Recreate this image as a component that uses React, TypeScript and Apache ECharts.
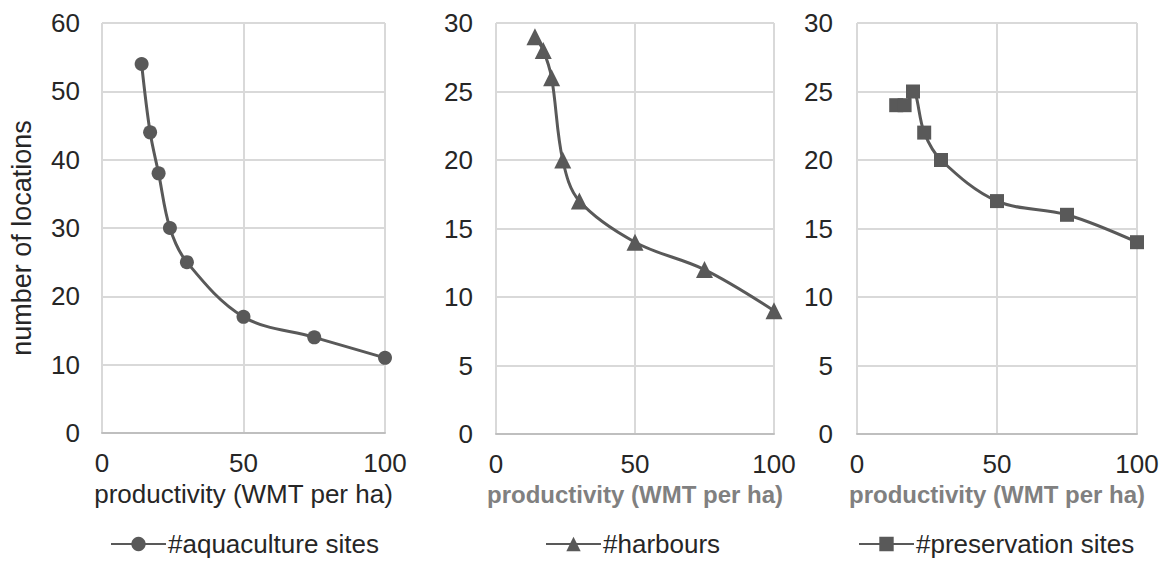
import React, { useEffect, useRef } from "react";
import * as echarts from "echarts";

const productivity = [14, 17, 20, 24, 30, 50, 75, 100];
const aquacultureSites = [54, 44, 38, 30, 25, 17, 14, 11];
const harbours = [29, 28, 26, 20, 17, 14, 12, 9];
const preservationSites = [24, 24, 25, 22, 20, 17, 16, 14];

const xTitle = "productivity (WMT per ha)";
const yTitle = "number of locations";
const seriesNames = ["#aquaculture sites", "#harbours", "#preservation sites"];
const yMaxes = [60, 30, 30];
const yIntervals = [10, 5, 5];

const FONT = "Liberation Sans, Arial, sans-serif";
const LINE = "#595959";
const GRIDC = "#d9d9d9";

export default function App() {
  const ref = useRef<HTMLDivElement>(null);
  useEffect(() => {
    if (!ref.current) return;
    const chart = echarts.init(ref.current, undefined, { renderer: "svg" });
    const grids = [
      { left: 102, top: 23, width: 283, height: 410 },
      { left: 496, top: 23, width: 278, height: 411 },
      { left: 857, top: 23, width: 280, height: 411 },
    ];
    const seriesData = [aquacultureSites, harbours, preservationSites];
    const symbols = ["circle", "triangle", "rect"];
    const symbolSizes = [14, 17, 14];
    const legendLefts = [110, 545, 858];
    const labelMargins = [22, 23, 24];

    const option: any = {
      animation: false,
      backgroundColor: "#ffffff",
      textStyle: { fontFamily: FONT },
      grid: grids,
      xAxis: grids.map((_, i) => ({
        type: "value",
        gridIndex: i,
        min: 0,
        max: 100,
        interval: 50,
        name: xTitle,
        nameLocation: "middle",
        nameGap: 48,
        nameTextStyle:
          i === 0
            ? { fontSize: 26, color: "#262626", fontFamily: FONT, verticalAlign: "top" }
            : { fontSize: 24, color: "#808080", fontWeight: "bold", fontFamily: FONT, verticalAlign: "top" },
        axisLine: { show: true, lineStyle: { color: "#bfbfbf", width: 2 } },
        axisTick: { show: false },
        axisLabel: { fontSize: 26, color: "#262626", margin: 17, fontFamily: FONT },
        splitLine: { show: true, lineStyle: { color: GRIDC, width: 2 } },
      })),
      yAxis: grids.map((_, i) => ({
        type: "value",
        gridIndex: i,
        min: 0,
        max: yMaxes[i],
        interval: yIntervals[i],
        axisLine: { show: false },
        axisTick: { show: false },
        axisLabel: { fontSize: 26, color: "#262626", margin: labelMargins[i], fontFamily: FONT },
        splitLine: { show: true, lineStyle: { color: GRIDC, width: 2 } },
      })),
      legend: seriesNames.map((n, i) => ({
        data: [n],
        left: legendLefts[i],
        top: 531,
        padding: 0,
        itemWidth: 55,
        itemHeight: 18,
        itemGap: 5,
        textStyle: { fontSize: 26, color: "#262626", fontFamily: FONT, padding: [0, 0, 0, -3] },
      })),
      series: seriesNames.map((n, i) => ({
        name: n,
        type: "line",
        xAxisIndex: i,
        yAxisIndex: i,
        data: productivity.map((x, k) => [x, seriesData[i][k]]),
        smooth: 0.35,
        symbol: symbols[i],
        symbolSize: symbolSizes[i],
        itemStyle: { color: LINE },
        lineStyle: { color: LINE, width: 3 },
      })),
      graphic: [
        {
          type: "text",
          x: 22,
          y: 238,
          rotation: Math.PI / 2,
          style: {
            text: yTitle,
            fontSize: 27,
            fontFamily: FONT,
            fill: "#262626",
            align: "center",
            verticalAlign: "middle",
          },
        },
      ],
    };
    chart.setOption(option);
    return () => chart.dispose();
  }, []);
  return (
    <div
      ref={ref}
      style={{ position: "fixed", left: 0, top: 0, width: 1166, height: 562 }}
    />
  );
}
